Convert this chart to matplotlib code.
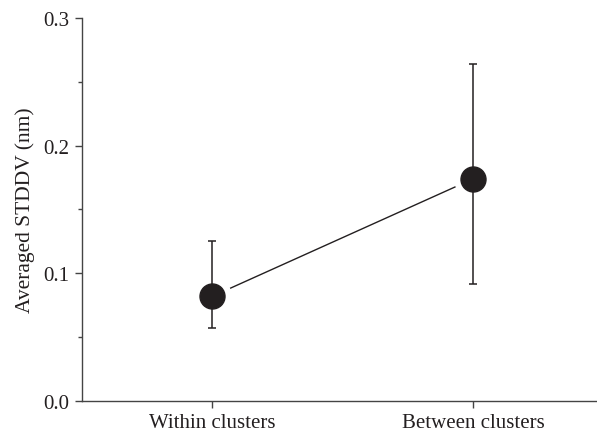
import matplotlib
matplotlib.use("Agg")
import matplotlib.pyplot as plt
from matplotlib.ticker import MultipleLocator, FormatStrFormatter

categories = ["Within clusters", "Between clusters"]
means = [0.082, 0.174]
err_low = [0.057, 0.092]
err_high = [0.125, 0.264]

plt.rcParams["font.family"] = ["Liberation Serif", "DejaVu Serif"]
ink = "#231f20"

fig = plt.figure(figsize=(5.97, 4.35), dpi=100)
ax = fig.add_axes([0.1374, 0.0759, 0.8733, 0.8804])

x = list(range(1, len(categories) + 1))
lower = [m - lo for m, lo in zip(means, err_low)]
upper = [hi - m for m, hi in zip(means, err_high)]

# connecting line, broken near each point by a white halo
ax.plot(x, means, color=ink, lw=1.0, zorder=1)
ax.plot(x, means, 'o', ms=27, color="white", zorder=2)
ax.errorbar(x, means, yerr=[lower, upper], fmt='none', ecolor=ink,
            elinewidth=1.1, capsize=2.8, capthick=1.1, zorder=3)
ax.plot(x, means, 'o', ms=18, color=ink, zorder=4)

ax.set_xlim(0.5, 2.5)
ax.set_ylim(0.0, 0.3)
ax.set_xticks(x)
ax.set_xticklabels(categories)
ax.yaxis.set_major_locator(MultipleLocator(0.1))
ax.yaxis.set_minor_locator(MultipleLocator(0.05))
ax.yaxis.set_major_formatter(FormatStrFormatter("%.1f"))
ax.set_ylabel("Averaged STDDV (nm)", fontsize=15.5, color=ink, labelpad=6)

for side in ("top", "right"):
    ax.spines[side].set_visible(False)
for side in ("left", "bottom"):
    ax.spines[side].set_color("#444444")
    ax.spines[side].set_linewidth(1.0)

ax.tick_params(axis="both", which="major", direction="out", length=5,
               width=1.0, color="#444444", labelsize=15, labelcolor=ink, pad=4)
ax.tick_params(axis="y", which="minor", direction="out", length=3,
               width=1.0, color="#444444")

fig.savefig("out.png", dpi=100)
